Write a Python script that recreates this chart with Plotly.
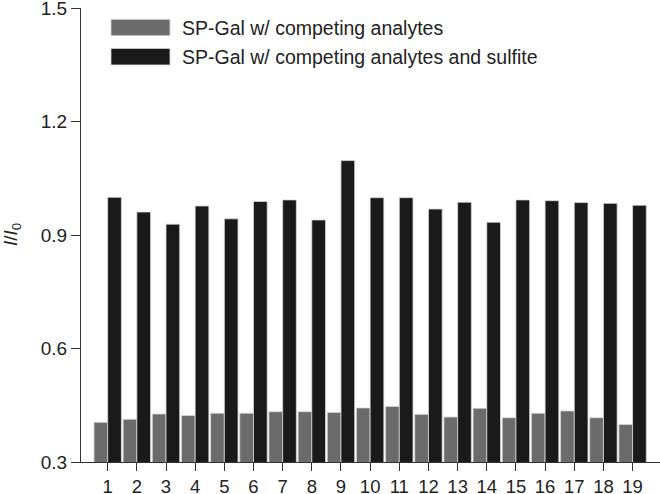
import plotly.graph_objects as go

# sample numbers 1..19
samples = list(range(1, 20))
# I/I0 with competing analytes only
competing = [0.405, 0.413, 0.427, 0.423, 0.429, 0.429, 0.433, 0.433, 0.431, 0.443,
             0.447, 0.426, 0.419, 0.442, 0.417, 0.429, 0.435, 0.417, 0.399]
# I/I0 with competing analytes and sulfite
with_sulfite = [1.000, 0.961, 0.929, 0.977, 0.943, 0.989, 0.993, 0.940, 1.097, 0.999,
                0.999, 0.969, 0.987, 0.934, 0.993, 0.991, 0.986, 0.984, 0.979]
y_ticks = [0.3, 0.6, 0.9, 1.2, 1.5]
names = ["SP-Gal w/ competing analytes", "SP-Gal w/ competing analytes and sulfite"]
colors = ["#6b6b6b", "#1a1a1a"]

FONT = "Liberation Sans, Arial, Helvetica, sans-serif"

fig = go.Figure()
for vals, name, col in zip([competing, with_sulfite], names, colors):
    fig.add_trace(go.Bar(
        x=samples, y=vals, name=name, showlegend=False,
        marker=dict(color=col, line=dict(color="#d8d8d8", width=0.8)),
    ))

# legend drawn by hand (wide swatches like the original)
sw = [(0.939, 0.975), (0.8745, 0.911)]
ty = [0.957, 0.893]
for (y0, y1), t, name, col in zip(sw, ty, names, colors):
    fig.add_shape(type="rect", xref="paper", yref="paper", x0=0.0518, x1=0.1537,
                  y0=y0, y1=y1, fillcolor=col, line=dict(color="#d8d8d8", width=0.8))
    fig.add_annotation(xref="paper", yref="paper", x=0.171, y=t, text=name,
                       showarrow=False, xanchor="left", yanchor="middle",
                       font=dict(size=19.5, color="#222", family=FONT))

fig.add_annotation(xref="paper", yref="paper", x=-0.119, y=0.5,
                   xanchor="center", yanchor="middle",
                   text="<i>I</i>/<i>I</i><sub>0</sub>", textangle=-90,
                   showarrow=False, font=dict(size=19, color="#222", family=FONT))

fig.update_layout(
    width=660, height=494,
    margin=dict(l=81, r=0, t=8, b=32),
    paper_bgcolor="white", plot_bgcolor="white",
    barmode="group", bargap=0.06, bargroupgap=0.0,
    font=dict(family=FONT, size=19, color="#222"),
    xaxis=dict(range=[0.085, 19.94], tickvals=samples, ticks="outside", ticklen=8,
               tickcolor="#333", showline=True, linecolor="#333", linewidth=1,
               showgrid=False, zeroline=False, automargin=False,
               ticklabeloverflow="allow", tickfont=dict(size=18.5)),
    yaxis=dict(range=[0.3, 1.5005], tickvals=y_ticks,
               ticktext=[f"{v:.1f}" for v in y_ticks], ticks="outside", ticklen=9,
               tickcolor="#333", showline=True, linecolor="#333", linewidth=1,
               showgrid=False, zeroline=False, automargin=False,
               ticklabeloverflow="allow", tickfont=dict(size=19)),
)

# page body has a default 8px margin; drop it so the figure sits at the corner
fig.write_html("out.html", config={"displayModeBar": False},
               post_script="document.body.style.margin='0';")
